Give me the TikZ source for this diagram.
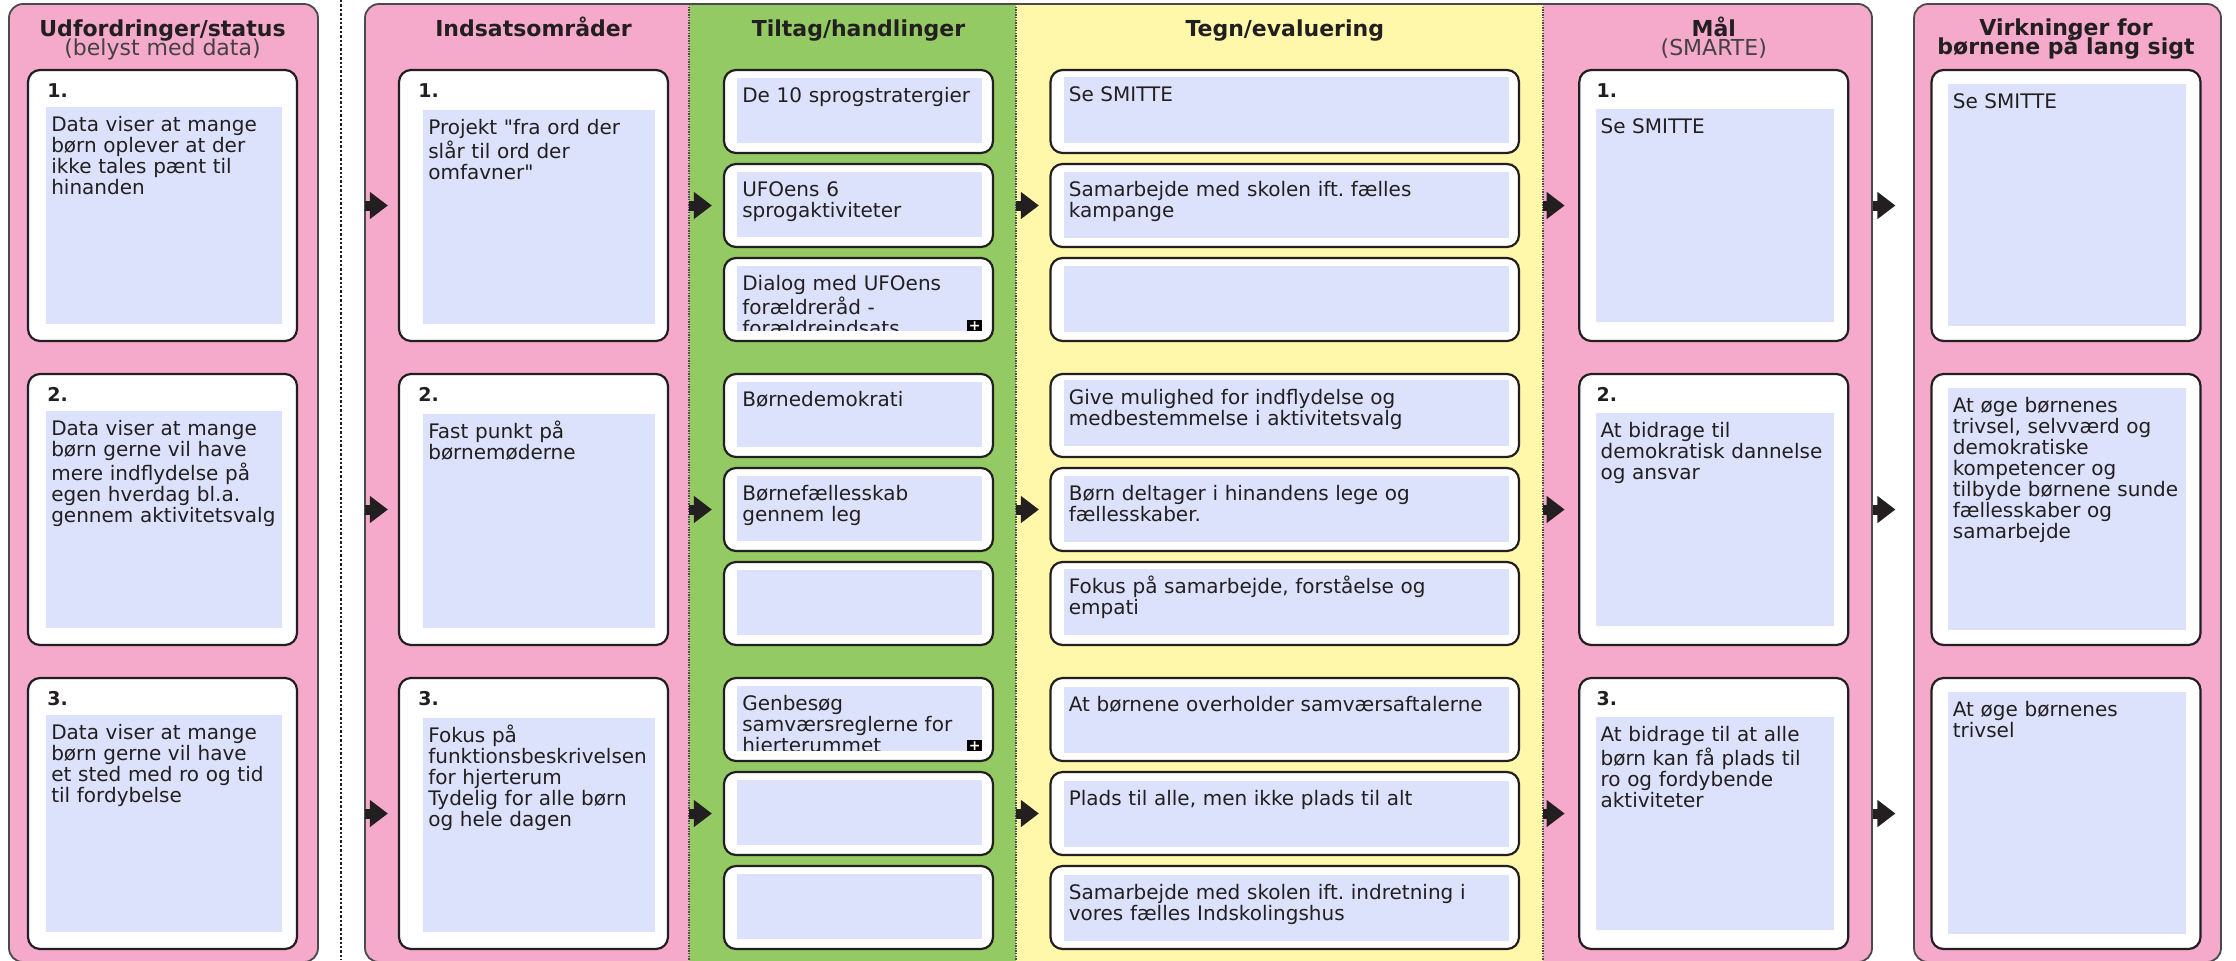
\documentclass[tikz,border=0pt]{standalone}
\usepackage{fontspec}
\setmainfont{DejaVu Sans}
\usepackage{xcolor}
\usetikzlibrary{arrows.meta}
\hyphenpenalty=10000
\exhyphenpenalty=10000
\frenchspacing
\setlength{\lineskiplimit}{-10pt}
\definecolor{pinkbg}{HTML}{F5AACB}
\definecolor{greenbg}{HTML}{93CA63}
\definecolor{yellowbg}{HTML}{FFF8AA}
\definecolor{boxblue}{HTML}{DCE2FC}
\definecolor{ink}{HTML}{231F20}
\definecolor{rimgray}{HTML}{4A4A4A}
\tikzset{
  bluebox/.style 2 args={fill=boxblue, anchor=north west, inner xsep=2.5pt, inner ysep=0pt,
    text width=#1, text height=12pt, text depth=#2, align=left, text=ink,
    font=\fontsize{10}{10.5}\selectfont},
  lbox/.style={bluebox={113pt}{96.5pt}},
  ibox/.style={bluebox={111pt}{95pt}},
  mbox/.style={bluebox={114pt}{94.5pt}},
  effbox/.style={bluebox={114pt}{109pt}},
  tbox/.style={bluebox={117.5pt}{20.5pt}},
  ebox/.style={bluebox={217.5pt}{21pt}}
}
\begin{document}
\begin{tikzpicture}[x=0.5pt, y=-0.5pt,
    panel/.style={draw=rimgray, line width=0.9pt, rounded corners=7pt},
    bigcard/.style={draw=ink, line width=1.1pt, fill=white, rounded corners=6pt,
      minimum width=134.5pt, minimum height=135.5pt, inner sep=0pt},
    tcard/.style={bigcard, minimum height=41.5pt},
    ecard/.style={bigcard, minimum width=234.25pt, minimum height=41.5pt},
    head/.style={anchor=base, text=ink, font=\fontsize{11}{11}\selectfont\bfseries},
    sub/.style={anchor=base, text=ink!85, font=\fontsize{11}{11}\selectfont},
    num/.style={anchor=base west, inner sep=0pt, text=ink, font=\fontsize{9.5}{10}\selectfont\bfseries},
    plus/.style={anchor=south east, fill=black, text=white, inner sep=0pt,
      minimum width=7.5pt, minimum height=5.5pt, font=\fontsize{7}{7}\selectfont\bfseries},
    flow/.style={draw=ink, line width=5pt, -{Triangle[length=9pt,width=13pt]}, shorten >=#1},
    divider/.style={draw=ink, line width=1.3pt, dash pattern=on 1.2pt off 1pt},
    sep/.style={draw=ink!80, line width=0.8pt, dash pattern=on 0.7pt off 0.6pt}]

\path[use as bounding box, fill=white] (0,0) rectangle (2236,960);

\fill[pinkbg, panel] (9,4) rectangle (318,962);
\draw[divider] (341,0) -- (341,960);
\fill[pinkbg, rounded corners=7pt] (365,4) rectangle (1872,962);
\fill[greenbg] (689,4) rectangle (1016,962);
\fill[yellowbg] (1016,4) rectangle (1543,962);
\draw[sep] (689,4) -- (689,962);
\draw[sep] (1016,4) -- (1016,962);
\draw[sep] (1543,4) -- (1543,962);
\draw[panel] (365,4) rectangle (1872,962);
\fill[pinkbg, panel] (1914,4) rectangle (2221,962);

\node[head] (h1) at (162.5,36) {Udfordringer/status};
\node[sub] (h1s) at (162.5,55) {(belyst med data)};
\node[head] (h2) at (533.5,36) {Indsatsområder};
\node[head] (h3) at (858.5,36) {Tiltag/handlinger};
\node[head] (h4) at (1284.75,36) {Tegn/evaluering};
\node[head] (h5) at (1713.75,36) {Mål};
\node[sub] (h5s) at (1713.75,55) {(SMARTE)};
\node[head] (h6) at (2066,35) {Virkninger for};
\node[head] (h6s) at (2066,54) {børnene på lang sigt};

\foreach \r/\y in {1/70,2/374,3/678} {
  \node[bigcard] (l\r) at (162.5,\y+135.5) {};
  \node[bigcard] (i\r) at (533.5,\y+135.5) {};
  \node[bigcard] (m\r) at (1713.75,\y+135.5) {};
  \node[bigcard] (v\r) at (2066,\y+135.5) {};
  \foreach \k/\d in {a/41.5,b/135.5,c/229.5} {
    \node[tcard] (t\k\r) at (858.5,\y+\d) {};
    \node[ecard] (e\k\r) at (1284.75,\y+\d) {};
  }
  \node[num] (ln\r) at ([shift={(20,29)}]l\r.north west) {\r.};
  \node[num] (in\r) at ([shift={(20,29)}]i\r.north west) {\r.};
  \node[num] (mn\r) at ([shift={(18,29)}]m\r.north west) {\r.};
}

\node[lbox] (l1x) at ([shift={(19,38)}]l1.north west) {Data viser at mange\\børn oplever at der\\ikke tales pænt til\\hinanden};
\node[lbox] (l2x) at ([shift={(19,38)}]l2.north west) {Data viser at mange\\børn gerne vil have\\mere indflydelse på\\egen hverdag bl.a.\\gennem aktivitetsvalg};
\node[lbox] (l3x) at ([shift={(19,38)}]l3.north west) {Data viser at mange\\børn gerne vil have\\et sted med ro og tid\\til fordybelse};

\node[ibox] (i1x) at ([shift={(25,41)}]i1.north west) {Projekt \textquotedbl fra ord der\\slår til ord der\\omfavner\textquotedbl};
\node[ibox] (i2x) at ([shift={(25,41)}]i2.north west) {Fast punkt på\\børnemøderne};
\node[ibox] (i3x) at ([shift={(25,41)}]i3.north west) {Fokus på\\funktionsbeskrivelsen\\for hjerterum\\Tydelig for alle børn\\og hele dagen};

\node[tbox] (ta1x) at ([shift={(14,9)}]ta1.north west) {De 10 sprogstratergier};
\node[tbox] (tb1x) at ([shift={(14,9)}]tb1.north west) {UFOens 6\\sprogaktiviteter};
\begin{scope}
  \clip ([shift={(14,9)}]tc1.north west) rectangle ++(245,65);
  \node[tbox] (tc1x) at ([shift={(14,9)}]tc1.north west) {Dialog med UFOens\\forældreråd -\\forældreindsats};
\end{scope}
\node[plus] (tc1p) at (tc1x.south east) {+};
\node[tbox] (ta2x) at ([shift={(14,9)}]ta2.north west) {Børnedemokrati};
\node[tbox] (tb2x) at ([shift={(14,9)}]tb2.north west) {Børnefællesskab\\gennem leg};
\node[tbox] (tc2x) at ([shift={(14,9)}]tc2.north west) {};
\begin{scope}
  \clip ([shift={(14,9)}]ta3.north west) rectangle ++(245,65);
  \node[tbox] (ta3x) at ([shift={(14,9)}]ta3.north west) {Genbesøg\\samværsreglerne for\\hjerterummet};
\end{scope}
\node[plus] (ta3p) at (ta3x.south east) {+};
\node[tbox] (tb3x) at ([shift={(14,9)}]tb3.north west) {};
\node[tbox] (tc3x) at ([shift={(14,9)}]tc3.north west) {};

\node[ebox] (ea1x) at ([shift={(14,8)}]ea1.north west) {Se SMITTE};
\node[ebox] (eb1x) at ([shift={(14,9)}]eb1.north west) {Samarbejde med skolen ift. fælles\\kampange};
\node[ebox] (ec1x) at ([shift={(14,9)}]ec1.north west) {};
\node[ebox] (ea2x) at ([shift={(14,7)}]ea2.north west) {Give mulighed for indflydelse og\\medbestemmelse i aktivitetsvalg};
\node[ebox] (eb2x) at ([shift={(14,9)}]eb2.north west) {Børn deltager i hinandens lege og\\fællesskaber.};
\node[ebox] (ec2x) at ([shift={(14,8)}]ec2.north west) {Fokus på samarbejde, forståelse og\\empati};
\node[ebox] (ea3x) at ([shift={(14,10)}]ea3.north west) {At børnene overholder samværsaftalerne};
\node[ebox] (eb3x) at ([shift={(14,10)}]eb3.north west) {Plads til alle, men ikke plads til alt};
\node[ebox] (ec3x) at ([shift={(14,10)}]ec3.north west) {Samarbejde med skolen ift. indretning i\\vores fælles Indskolingshus};

\node[mbox] (m1x) at ([shift={(17,40)}]m1.north west) {Se SMITTE};
\node[mbox] (m2x) at ([shift={(17,40)}]m2.north west) {At bidrage til\\demokratisk dannelse\\og ansvar};
\node[mbox] (m3x) at ([shift={(17,40)}]m3.north west) {At bidrage til at alle\\børn kan få plads til\\ro og fordybende\\aktiviteter};

\node[effbox] (v1x) at ([shift={(17,15)}]v1.north west) {Se SMITTE};
\node[effbox] (v2x) at ([shift={(17,15)}]v2.north west) {At øge børnenes\\trivsel, selvværd og\\demokratiske\\kompetencer og\\tilbyde børnene sunde\\fællesskaber og\\samarbejde};
\node[effbox] (v3x) at ([shift={(17,15)}]v3.north west) {At øge børnenes\\trivsel};

\foreach \r/\yc in {1/205.5,2/509.5,3/813.5} {
  \coordinate (pa\r) at (365,\yc);
  \coordinate (pb\r) at (689,\yc);
  \coordinate (pc\r) at (1016,\yc);
  \coordinate (pd\r) at (1543,\yc);
  \coordinate (pe\r) at (1873,\yc);
  \draw[flow=5pt] (pa\r) -- (i\r.west);
  \draw[flow=5.5pt] (pb\r) -- (tb\r.west);
  \draw[flow=5.25pt] (pc\r) -- (eb\r.west);
  \draw[flow=6.75pt] (pd\r) -- (m\r.west);
  \draw[flow=17.5pt] (pe\r) -- (v\r.west);
}
\end{tikzpicture}
\end{document}
